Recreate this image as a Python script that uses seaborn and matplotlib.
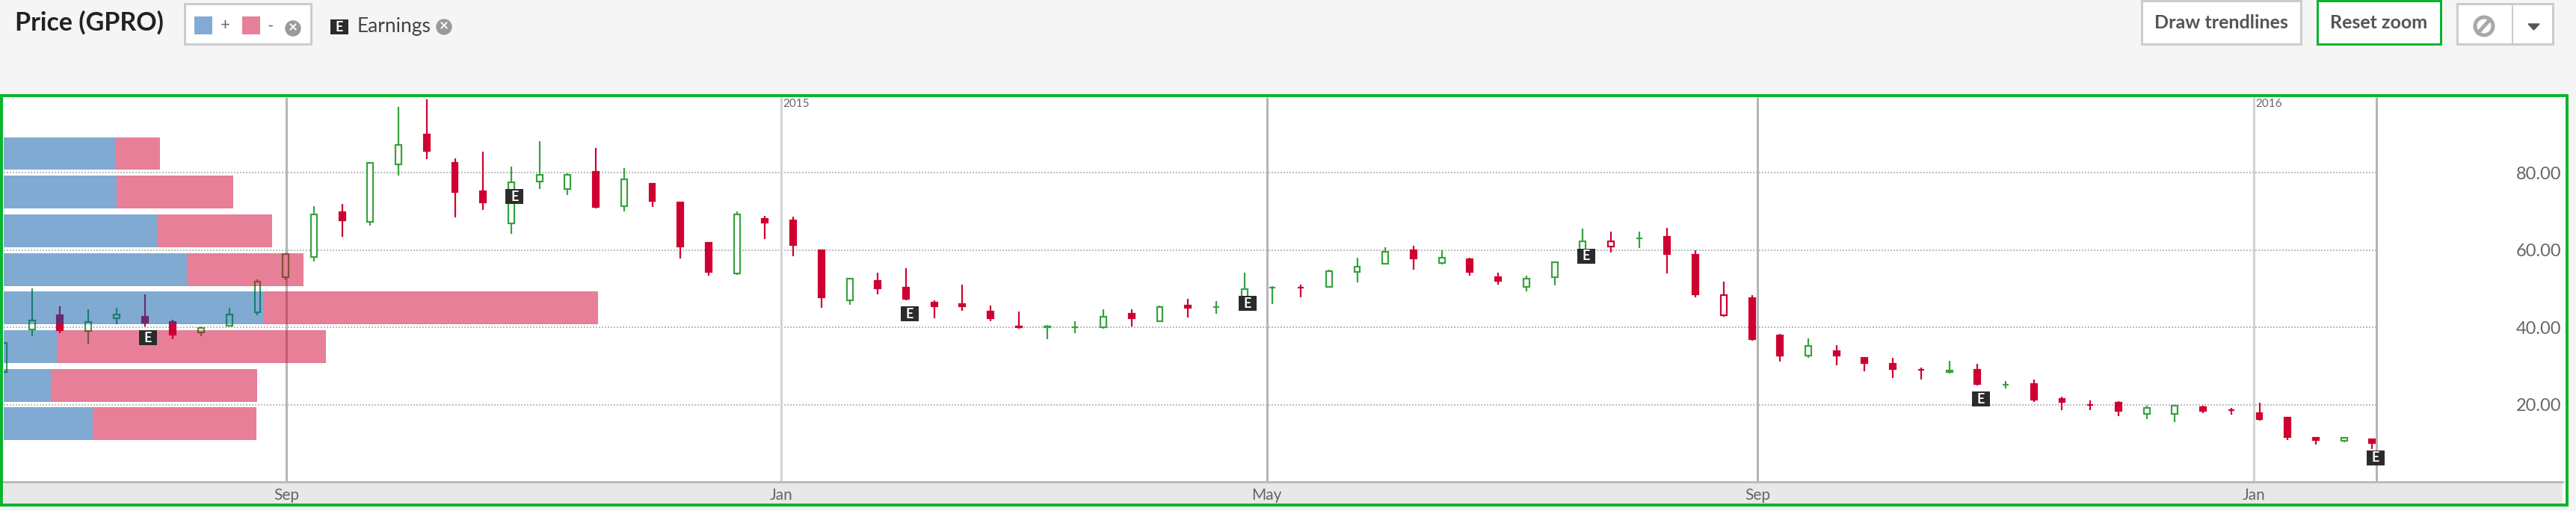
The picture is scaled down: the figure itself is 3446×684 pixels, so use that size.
import pandas as pd
import matplotlib.pyplot as plt
from matplotlib.patches import Circle, Polygon, Rectangle
import seaborn as sns

GREEN = "#37a33f"
RED = "#cf0031"
FRAME = "#0ab52d"
TEXT = "#222222"

# weekly candles
highs = [36, 50.1, 45.4, 44.6, 45, 48.6, 41.9, 40.3, 45, 52.4, 59.2, 71.4, 71.9, 82.7, 97.1, 99, 83.8, 85.4, 81.6, 88.1, 79.8,
         86.5, 81.2, 77.2, 72.4, 61.9, 70, 68.9, 68.6, 60, 52.6, 54.2, 55.4, 46.9, 51.1, 45.7, 44.1, 40.6, 41.5, 44.6, 44.6,
         45.6, 47.3, 46.8, 54.2, 50.7, 51.1, 55, 58.1, 60.8, 61.2, 60, 58, 54.1, 53.4, 56.9, 65.5, 64.7, 64.7, 65.8, 60,
         51.9, 48.4, 38.3, 37.2, 35.3, 32.2, 32.1, 29.5, 31.4, 30.6, 26.1, 26.4, 22.1, 21, 20.8, 19.7, 20, 19.8, 19.2, 20.5,
         16.6, 11.5, 11.5, 11.1]
lows = [28.3, 37.8, 38.5, 35.7, 40.9, 40.3, 36.9, 37.8, 40.2, 43.2, 52.2, 57.1, 63.4, 66.4, 79.3, 83.6, 68.5, 70.4, 64.2, 75.8, 74.2,
        70.8, 70, 71.2, 57.8, 53.4, 53.6, 62.8, 58.5, 45, 45.8, 48.5, 46.9, 42.3, 44.2, 41.5, 39.7, 36.9, 38.4, 39.6, 40.2,
        41.5, 42.6, 43.5, 46.1, 46.1, 47.7, 50.4, 51.6, 56.2, 55, 56.2, 53.4, 51.1, 49.3, 50.8, 59.2, 59.3, 60.5, 53.9, 47.7,
        42.7, 36.5, 31.1, 32.2, 30.2, 28.7, 26.9, 26.4, 28.1, 24.9, 24.1, 20.7, 18.6, 18.6, 17, 16.3, 15.5, 17.8, 17.5, 15.9,
        10.8, 9.7, 10.2, 8.6]
body_tops = [35.9, 41.7, 43.1, 41.4, 43.4, 42.7, 41.4, 39.8, 43.3, 51.8, 58.9, 69.3, 69.8, 82.5, 87.2, 90, 82.6, 75.3, 77.5, 79.5, 79.5,
             80.3, 78.3, 77.2, 72.4, 61.9, 69.2, 68.1, 67.7, 60, 52.6, 52.1, 50.2, 46.4, 46, 44.1, 40.2, 40.3, 40.1, 42.8, 43.6,
             45.3, 45.6, 45.2, 49.9, 50.3, 50.3, 54.6, 55.7, 59.6, 60, 58, 57.7, 53, 52.6, 56.8, 62.2, 62.2, 63, 63.4, 58.8,
             48.4, 47.6, 37.9, 35.2, 33.8, 32.1, 30.5, 29.1, 28.9, 29.1, 25.1, 25.3, 21.4, 19.9, 20.5, 19.2, 19.7, 19.4, 18.5, 17.8,
             16.6, 11.5, 11.5, 11.1]
body_bots = [28.5, 39.5, 39.3, 39, 42.4, 41.2, 38.1, 38.6, 40.5, 43.9, 52.9, 58.3, 67.6, 67.3, 82.1, 85.6, 75.1, 72.4, 67, 77.8, 75.9,
             71.2, 71.3, 72.7, 60.9, 54.3, 54, 67.1, 61.4, 47.8, 47, 50.1, 47.3, 45.5, 45.4, 42.4, 40, 40.1, 40.1, 40.1, 42.3,
             41.6, 45.1, 45.2, 46.6, 50.3, 50.3, 50.5, 54.3, 56.5, 57.8, 56.6, 54.3, 52, 50.4, 52.9, 59.6, 60.9, 63, 59, 48.5,
             43.1, 36.9, 32.7, 32.7, 32.7, 30.8, 29.2, 29.1, 28.4, 25.3, 25.1, 21.2, 20.7, 19.9, 18.3, 17.6, 17.6, 18.3, 18.5, 16.3,
             11.7, 10.9, 10.6, 10.1]
# u = rising (hollow green), d = falling (solid red), h = hollow red
candle_kinds = list(
    "uuduudduu"      # 0-8
    "uuuduuddd"      # 9-17
    "uuudud"         # 18-23
    "ddudd"          # 24-28
    "dudd"           # 29-32
    "dddd"           # 33-36
    "uuududu"        # 37-43
    "uudu"           # 44-47
    "uudud"          # 48-52
    "duuu"           # 53-56
    "hud"            # 57-59
    "dhd"            # 60-62
    "dudddd"         # 63-68
    "ud"             # 69-70
    "uddd"           # 71-74
    "duudd"          # 75-79
    "ddd"            # 80-82
    "ud"             # 83-84
)

earnings_weeks = [5, 18, 32, 44, 56, 70, 84]
earnings_levels = [37.3, 73.8, 43.5, 46.2, 58.5, 21.4, 6.2]

# volume by price, stacked
price_edges = [10, 20, 30, 40, 50, 60, 70, 80, 90]
price_levels = [15, 25, 35, 45, 55, 65, 75, 85]
volume_plus = [119, 63, 71, 347, 245, 205, 151, 149]
volume_minus = [219, 276, 360, 448, 156, 154, 156, 60]

month_weeks = [10.02, 27.57, 44.8, 62.2, 79.8]
month_labels = ["Sep", "Jan", "May", "Sep", "Jan"]
year_weeks = [27.57, 79.8]
year_labels = ["2015", "2016"]
last_week = 84.14
price_ticks = [20, 40, 60, 80]

W, H = 3446, 684
PT = 0.72  # one pixel in points at dpi 100
Y_TOP = 99.6

sns.set_theme(style="white")
plt.rcParams["font.family"] = ["Lato", "DejaVu Sans"]

fig = plt.figure(figsize=(W / 100, H / 100), dpi=100, facecolor="#f5f5f5")


def px_axes(left, top, right, bottom):
    return [left / W, 1 - bottom / H, (right - left) / W, (bottom - top) / H]


# page furniture, in pixel coordinates
ui = fig.add_axes([0, 0, 1, 1], zorder=0)
ui.set_xlim(0, W)
ui.set_ylim(H, 0)
ui.axis("off")


def box(x0, y0, x1, y1, fc="white", ec="#cccccc", lw=3):
    ui.add_patch(Rectangle((x0, y0), x1 - x0, y1 - y0, facecolor=fc, edgecolor=ec, linewidth=lw * PT))


def close_icon(x, y):
    ui.add_patch(Circle((x, y), 10, color="#9a9a9a"))
    ui.text(x, y - 1, "×", color="white", fontsize=15, fontweight="bold", ha="center", va="center")


box(2, 128, 3434, 676, ec=FRAME, lw=4)
box(5, 645, 3428, 674, fc="#e8e8e8", ec="none", lw=0)

ui.text(20, 30, "Price (GPRO)", fontsize=24.5, fontweight="bold", color=TEXT, va="center")
box(247, 5, 416, 59)
box(260, 22, 284, 46, fc="#82abd3", ec="none", lw=0)
ui.text(301, 34, "+", fontsize=16, color="#666666", ha="center", va="center")
box(324, 22, 348, 46, fc="#e77f98", ec="none", lw=0)
ui.text(362, 35, "-", fontsize=16, color="#666666", ha="center", va="center")
close_icon(392, 38)
box(442, 26, 466, 46, fc="#2b2b2b", ec="none", lw=0)
ui.text(454, 36, "E", fontsize=13, fontweight="bold", color="white", ha="center", va="center")
ui.text(478, 35, "Earnings", fontsize=19, color="#444444", va="center")
close_icon(594, 36)

box(2865, 1, 3078, 59)
ui.text(2971, 31, "Draw trendlines", fontsize=18, fontweight="bold", color="#555555", ha="center", va="center")
box(3100, 1, 3265, 59, ec=FRAME)
ui.text(3182, 31, "Reset zoom", fontsize=18, fontweight="bold", color="#555555", ha="center", va="center")
box(3287, 5, 3415, 59)
ui.plot([3361, 3361], [5, 59], color="#cccccc", lw=2 * PT)
ui.add_patch(Circle((3323, 35), 12, facecolor="none", edgecolor="#a8a8a8", linewidth=5 * PT))
ui.plot([3315, 3331], [44, 26], color="#a8a8a8", lw=5 * PT)
ui.add_patch(Polygon([[3382, 32], [3397, 32], [3389.5, 40]], color="#555555"))

# price panel
ax = fig.add_axes(px_axes(5, 130, 3428, 645), zorder=1)
ax.set_facecolor("white")
ax.set_xlim(0, 90.75)
ax.set_ylim(0, Y_TOP)
for name in ["left", "right", "top"]:
    ax.spines[name].set_visible(False)
ax.spines["bottom"].set_color("#bbbbbb")
ax.spines["bottom"].set_linewidth(3 * PT)

ax.hlines(price_ticks, 0, last_week, color="#bdbdbd", lw=2 * PT, linestyles=(0, (1, 1)), zorder=1)
line_colors = ["#b5b5b5", "#d2d2d2", "#b5b5b5", "#b5b5b5", "#d2d2d2"]
ax.vlines(month_weeks + [last_week], 0, Y_TOP, color=line_colors + ["#b5b5b5"], lw=3 * PT, zorder=1)

candles = pd.DataFrame({"high": highs, "low": lows, "top": body_tops, "bot": body_bots, "kind": candle_kinds})
candles["week"] = candles.index
candles["color"] = candles["kind"].map({"u": GREEN, "d": RED, "h": RED})
candles["fill"] = candles["kind"].map({"u": "white", "d": RED, "h": "white"})

ax.vlines(candles["week"], candles["low"], candles["high"], color=candles["color"], lw=2.2 * PT, zorder=2)
ax.bar(candles["week"], candles["top"] - candles["bot"], bottom=candles["bot"], width=0.21,
       facecolor=candles["fill"], edgecolor=candles["color"], linewidth=2.2 * PT, zorder=3)

ax.yaxis.tick_right()
ax.set_yticks(price_ticks, [f"{p:.2f}" for p in price_ticks])
ax.tick_params(axis="y", length=0, pad=-1, labelsize=17, labelcolor="#666666")
for label in ax.get_yticklabels():
    label.set_ha("right")

ax.set_xticks(month_weeks, month_labels)
ax.tick_params(axis="x", length=0, pad=6, labelsize=15, labelcolor="#666666")

for week, label in zip(year_weeks, year_labels):
    ax.text(week + 0.06, 97.8, label, fontsize=11, color="#666666", va="center", ha="left")

# volume by price sits over the candles, so they show through it
vol = pd.DataFrame({
    "price": price_levels + price_levels,
    "volume": volume_plus + volume_minus,
    "side": ["+"] * len(price_levels) + ["-"] * len(price_levels),
})
ax2 = ax.twiny()
ax2.set_zorder(ax.get_zorder())
sns.histplot(data=vol, y="price", weights="volume", hue="side", hue_order=["-", "+"], multiple="stack",
             bins=price_edges, shrink=0.85, palette={"+": "#0557a7", "-": RED}, alpha=0.5, linewidth=0,
             legend=False, ax=ax2)
ax2.set_xlim(0, 3423)
ax2.set_ylim(0, Y_TOP)
ax2.set_xticks([])
ax2.set_xlabel("")
ax2.set_ylabel("")
ax2.patch.set_visible(False)
for spine in ax2.spines.values():
    spine.set_visible(False)
ax2.yaxis.set_visible(False)

# earnings flags go on the top axes but use the week scale: 24 x 20 px boxes
flag_w = 0.636
flag_h = 3.87
for week, level in zip(earnings_weeks, earnings_levels):
    ax2.add_patch(Rectangle((week + 0.12 - flag_w / 2, level - flag_h / 2), flag_w, flag_h, facecolor="#2b2b2b",
                            edgecolor="none", zorder=5, transform=ax.transData))
    ax2.text(week + 0.12, level, "E", fontsize=13, fontweight="bold", color="white", ha="center", va="center",
             zorder=6, transform=ax.transData)

fig.savefig("out.png", dpi=100, facecolor=fig.get_facecolor())
